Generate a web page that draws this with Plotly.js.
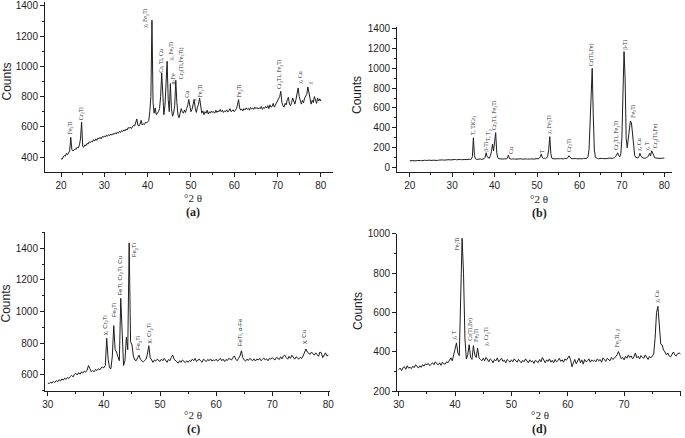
<!DOCTYPE html>
<html>
<head>
<meta charset="utf-8">
<script src="https://cdn.plot.ly/plotly-3.0.1.min.js"></script>
<style>
  body { margin: 0; background: #fff; }
  #graph { width: 685px; height: 438px; }
</style>
</head>
<body>
<div id="graph"></div>
<script>
"use strict";

// balayage en 2theta, pas de 0.25 degre
var a_debut = 20, b_debut = 20, c_debut = 30, d_debut = 30;
var pas = 0.25;

// (a) comptages, de 20 a 80
var a_counts = [
  390,385,400,410,405,425,415,430,440,530,450,440,445,455,450,465,460,480,520,630,
  470,465,480,475,490,485,500,495,505,500,515,505,520,510,525,520,530,520,535,530,
  540,532,545,538,548,542,552,545,555,550,560,553,565,558,570,562,575,568,580,572,
  585,578,595,590,598,588,600,610,605,625,652,610,605,618,643,612,620,615,630,625,
  632,640,700,800,1305,760,690,725,680,690,700,720,800,956,760,680,740,880,1034,780,
  700,886,720,670,690,740,908,760,680,660,690,720,700,690,710,695,720,740,780,720,
  700,715,740,780,720,695,730,750,790,720,690,705,680,700,690,710,685,700,690,705,
  695,700,690,710,695,705,700,715,700,710,695,705,700,712,698,705,720,700,708,712,
  700,710,720,745,780,725,710,718,705,720,712,725,715,722,710,728,718,725,715,730,
  720,728,718,725,720,735,715,728,722,735,725,740,720,745,730,735,755,730,745,750,
  770,790,800,835,760,740,730,755,745,780,795,750,740,760,790,770,750,780,810,857,
  800,770,750,775,760,790,800,815,864,820,770,750,775,760,800,770,755,790,770,785,
  770
];

// (b) de 20 a 80
var b_counts = [
  70,72,68,71,69,73,70,72,74,71,73,70,74,72,75,73,71,74,76,73,
  75,73,76,74,77,75,73,76,78,75,77,79,76,78,80,77,79,81,78,80,
  82,79,81,83,80,82,84,81,83,80,82,85,83,81,84,82,85,83,86,110,
  300,120,88,84,86,83,85,88,84,86,90,105,150,110,98,95,120,160,237,170,
  260,352,150,100,90,88,86,89,87,90,85,88,95,127,92,88,86,89,85,87,
  86,88,85,89,87,90,86,88,91,87,89,86,90,88,87,91,89,86,90,88,
  92,89,95,110,137,100,92,95,90,98,115,180,312,140,95,90,88,92,89,91,
  88,90,92,89,91,88,93,90,92,100,120,105,92,89,91,88,92,90,89,93,
  91,89,92,90,94,91,93,96,110,180,450,850,998,520,180,105,95,92,90,93,
  91,94,92,90,95,93,91,96,94,92,97,95,98,100,110,130,150,120,110,140,
  300,750,1166,900,300,200,300,420,469,450,340,200,125,105,100,98,110,144,115,100,
  96,98,95,100,105,115,144,120,170,150,115,100,97,95,98,94,96,93,97,95,
  95
];

// (c) de 30 a 80
var c_counts = [
  550,545,555,548,560,552,565,558,570,562,575,568,580,572,585,578,590,598,588,605,
  610,600,615,605,620,612,625,618,630,660,640,620,628,620,635,628,640,632,645,650,
  645,660,832,700,645,640,720,912,760,745,715,690,1084,820,660,690,838,760,1434,810,
  790,720,695,690,705,726,700,688,682,690,700,730,785,710,690,680,695,688,700,692,
  685,700,690,705,695,680,698,690,710,726,700,690,685,675,690,680,695,685,678,690,
  680,692,685,700,690,705,685,695,700,688,680,700,692,685,698,690,702,688,695,690,
  700,688,695,705,690,700,685,698,692,705,700,695,712,720,700,690,705,720,753,710,
  695,688,700,692,705,698,690,702,688,700,695,705,690,698,708,695,702,690,705,700,
  710,700,695,712,705,698,715,702,720,725,710,700,718,705,725,712,700,715,708,700,
  712,705,720,740,764,745,738,730,745,735,725,740,730,718,745,740,710,725,740,720,
  725
];

// (d) de 30 a 80
var d_counts = [
  310,318,305,320,325,312,330,318,322,315,328,320,335,325,318,330,322,335,328,340,
  335,342,330,338,345,335,350,340,335,345,332,348,340,338,350,345,360,370,355,380,
  415,446,395,381,620,978,800,470,364,385,437,372,362,432,385,372,419,370,362,355,
  368,355,372,360,350,365,358,345,362,355,370,350,360,368,352,358,345,362,355,348,
  360,350,365,355,348,362,355,345,358,350,365,352,345,360,350,355,342,358,350,346,
  362,350,372,355,345,360,352,365,348,358,345,362,350,356,368,352,360,348,365,358,
  370,380,360,325,345,362,340,355,368,345,360,338,362,350,355,365,348,360,352,358,
  350,365,355,362,348,370,358,352,368,360,355,372,362,368,375,385,402,380,365,372,
  360,378,368,385,372,380,365,375,395,370,378,365,382,372,368,385,375,362,378,370,
  380,390,470,600,632,520,440,435,410,400,385,395,380,375,390,400,385,380,392,395,
  390
];

// identification des pics : position, comptage au pied de l'etiquette, texte
var a_pic_x = [22.1, 24.6, 39.5, 43.1, 45.4, 45.8, 47.7, 49.0, 50.9, 52.3, 61.3, 70.5, 75.2, 77.5];
var a_pic_y = [537, 630, 1243, 945, 1023, 868, 901, 780, 758, 780, 780, 835, 868, 864];
var a_pic_txt = ["Fe<sub>2</sub>Ti", "Cr<sub>2</sub>Ti", "χ, Fe<sub>2</sub>Ti", "Cr, Ti, Cu", "χ, Fe<sub>2</sub>Ti", "α-Fe",
  "Cr<sub>2</sub>(Ti,Fe<sub>2</sub>Ti)", "Cu", "χ", "Fe<sub>2</sub>Ti", "Fe<sub>2</sub>Ti", "Cr<sub>2</sub>Ti, Fe<sub>2</sub>Ti", "χ, Cu", "χ"];

var b_pic_x = [34.85, 37.8, 38.6, 40.0, 43.7, 51.2, 52.9, 57.5, 62.8, 68.9, 70.7, 72.6, 74.2, 75.9, 78.0];
var b_pic_y = [312, 137, 245, 355, 117, 127, 318, 137, 998, 160, 1166, 479, 150, 150, 178];
var b_pic_txt = ["T, TiCr<sub>2</sub>", "β-Ti", "T, T<sub>2</sub>", "Cr<sub>2</sub>Ti, Fe<sub>2</sub>Ti", "Cu", "T", "χ, Fe<sub>2</sub>Ti",
  "Cr<sub>2</sub>Ti", "Cr(Ti,Fe)", "Cr<sub>2</sub>Ti, Fe<sub>2</sub>Ti", "β-Ti", "Fe<sub>2</sub>Ti", "χ, Cu", "χ, T", "Cr<sub>2</sub>(Ti,Fe)"];

var c_pic_x = [40.2, 42.0, 42.9, 45.6, 46.2, 48.1, 64.4, 75.8];
var c_pic_y = [838, 954, 1090, 1333, 743, 789, 768, 781];
var c_pic_txt = ["χ, Cr<sub>2</sub>Ti", "Fe<sub>2</sub>Ti", "FeTi, Cr<sub>2</sub>Ti, Cu", "Fe<sub>2</sub>Ti", "Fe<sub>2</sub>Ti",
  "χ, Cr<sub>2</sub>Ti", "FeTi, α-Fe", "χ, Cu"];

var d_pic_x = [39.9, 40.4, 42.7, 43.9, 45.7, 68.9, 75.9];
var d_pic_y = [449, 907, 446, 441, 419, 415, 639];
var d_pic_txt = ["χ, T", "Fe<sub>2</sub>Ti", "Cr(Ti,Fe)", "Fe<sub>2</sub>Ti", "χ, Cr<sub>2</sub>Ti", "Fe<sub>2</sub>Ti, χ", "χ, Cu"];

var encre = '#1e1e1e';

function grille(debut, n) {
  // positions en 2theta du balayage
  var x = [];
  for (var i = 0; i < n; i++) {
    x.push(debut + i * pas);
  }
  return x;
}

function trace(debut, counts, xa, ya) {
  return {
    type: 'scatter',
    mode: 'lines',
    x: grille(debut, counts.length),
    y: counts,
    xaxis: xa,
    yaxis: ya,
    line: { color: encre, width: 1 },
    hoverinfo: 'skip'
  };
}

function axe(domaine, plage, dtick, mineur, ancre) {
  return {
    domain: domaine,
    range: plage,
    anchor: ancre,
    dtick: dtick,
    tick0: 0,
    showline: true,
    linecolor: encre,
    linewidth: 1,
    ticks: 'outside',
    ticklen: 4,
    tickwidth: 1,
    tickcolor: encre,
    showgrid: false,
    zeroline: false,
    tickfont: { family: 'Liberation Sans, Arial, sans-serif', size: 10, color: encre },
    minor: { ticks: 'outside', ticklen: 2, dtick: mineur, tickcolor: encre, showgrid: false }
  };
}

var annotations = [];

function etiquettes(px, py, txt, xr, yr, police) {
  px.forEach(function (x, i) {
    annotations.push({
      x: x, y: py[i], xref: xr, yref: yr,
      text: txt[i], textangle: -90, showarrow: false,
      xanchor: 'center', yanchor: 'bottom',
      font: { family: police, size: 6, color: '#333' }
    });
  });
}

function texte(x, y, t, police, taille, angle) {
  annotations.push({
    x: x, y: y, xref: 'paper', yref: 'paper', text: t,
    showarrow: false, textangle: angle || 0,
    xanchor: 'center', yanchor: 'middle',
    font: { family: police, size: taille, color: encre }
  });
}

etiquettes(a_pic_x, a_pic_y, a_pic_txt, 'x', 'y', 'Liberation Serif, serif');
etiquettes(b_pic_x, b_pic_y, b_pic_txt, 'x2', 'y2', 'Liberation Serif, serif');
etiquettes(c_pic_x, c_pic_y, c_pic_txt, 'x3', 'y3', 'Liberation Sans, sans-serif');
etiquettes(d_pic_x, d_pic_y, d_pic_txt, 'x4', 'y4', 'Liberation Serif, serif');

var sans = 'Liberation Sans, Arial, sans-serif';
var serif = 'Liberation Serif, Times New Roman, serif';

// titres des axes et lettres des panneaux
texte(0.0095, 0.8128, 'Counts', sans, 12, -90);
texte(0.5212, 0.7831, 'Counts', sans, 12, -90);
texte(0.0095, 0.3059, 'Counts', sans, 12, -90);
texte(0.5226, 0.2900, 'Counts', sans, 12, -90);

texte(0.2818, 0.5480, '°2 θ', serif, 11);
texte(0.7869, 0.5457, '°2 θ', serif, 11);
texte(0.2818, 0.0525, '°2 θ', serif, 11);
texte(0.7883, 0.0525, '°2 θ', serif, 11);

texte(0.2818, 0.5160, '<b>(a)</b>', serif, 12);
texte(0.7869, 0.5137, '<b>(b)</b>', serif, 12);
texte(0.2818, 0.0205, '<b>(c)</b>', serif, 12);
texte(0.7883, 0.0205, '<b>(d)</b>', serif, 12);

var data = [
  trace(a_debut, a_counts, 'x', 'y'),
  trace(b_debut, b_counts, 'x2', 'y2'),
  trace(c_debut, c_counts, 'x3', 'y3'),
  trace(d_debut, d_counts, 'x4', 'y4')
];

var layout = {
  width: 685,
  height: 438,
  margin: { l: 0, r: 0, t: 0, b: 0 },
  paper_bgcolor: '#fff',
  plot_bgcolor: '#fff',
  showlegend: false,
  xaxis: axe([0.0657, 0.4861], [16.3, 82.8], 10, 5, 'y'),
  yaxis: axe([0.6073, 0.9954], [300.7, 1426], 200, 100, 'x'),
  xaxis2: axe([0.5796, 0.9810], [17.0, 81.8], 10, 5, 'y2'),
  yaxis2: axe([0.6066, 0.9384], [-46, 1413], 200, 100, 'x2'),
  xaxis3: axe([0.0657, 0.4818], [29.5, 80.3], 10, 5, 'y3'),
  yaxis3: axe([0.1066, 0.4703], [497, 1503], 200, 100, 'x3'),
  xaxis4: axe([0.5796, 0.9942], [29.7, 80.1], 10, 5, 'y4'),
  yaxis4: axe([0.1066, 0.4658], [200, 1000], 200, 100, 'x4'),
  annotations: annotations
};

Plotly.newPlot('graph', data, layout, { displayModeBar: false });
</script>
</body>
</html>
